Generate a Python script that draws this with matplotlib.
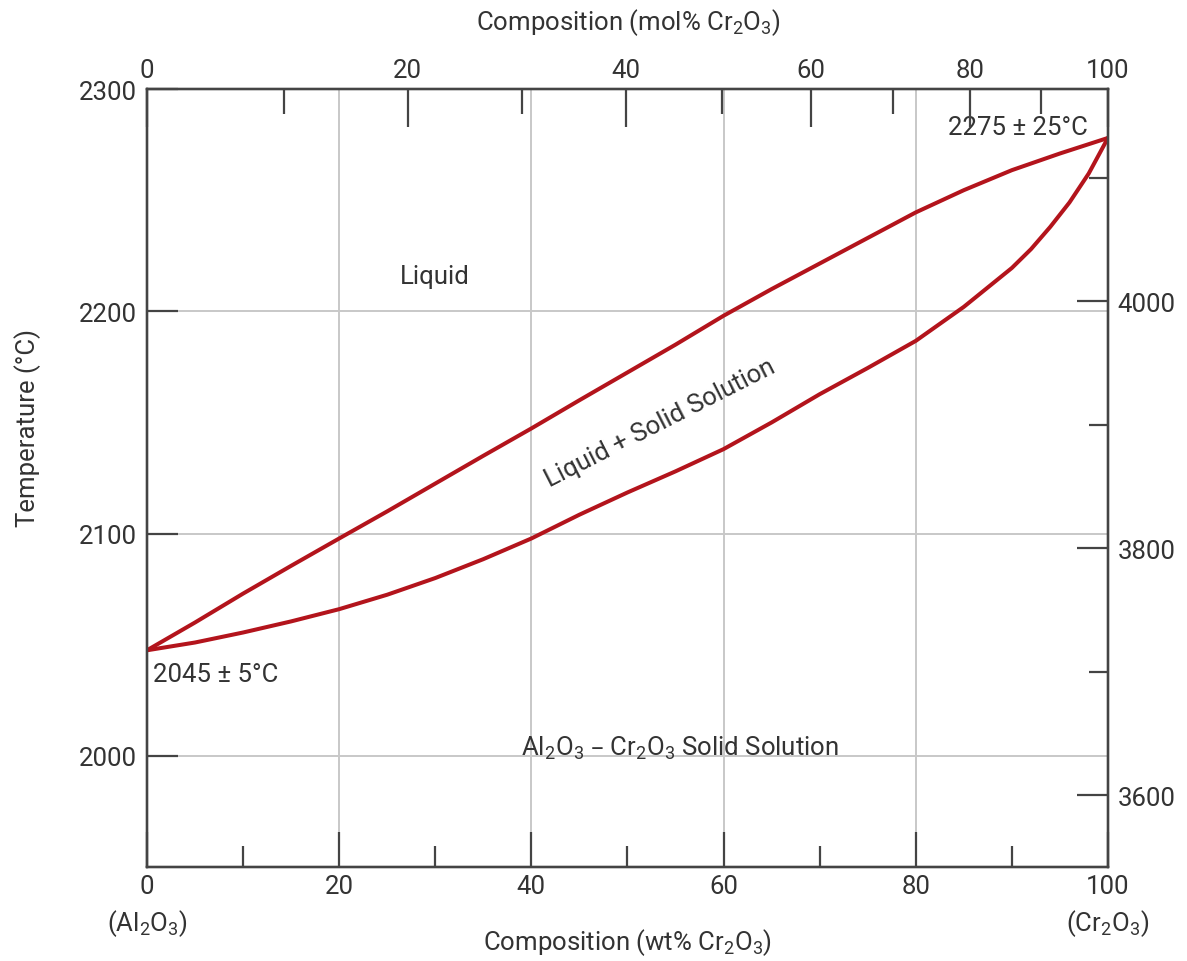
import matplotlib
matplotlib.use("Agg")
import matplotlib.pyplot as plt
import numpy as np

plt.rcParams['font.family'] = ['Roboto', 'DejaVu Sans']
plt.rcParams['mathtext.default'] = 'regular'

# phase boundaries (wt% Cr2O3, degC)
liq_wt = [0, 5, 10, 15, 20, 25, 30, 35, 40, 45, 50, 55, 60, 65, 70, 75, 80, 85, 90, 95, 100]
liq_T = [2047.5, 2060, 2073, 2085.5, 2097.8, 2110, 2122.5, 2135, 2147.3, 2160, 2172.5, 2185, 2198,
         2210, 2221.5, 2233, 2244.5, 2254.5, 2263.5, 2271, 2278]
sol_wt = [0, 5, 10, 15, 20, 25, 30, 35, 40, 45, 50, 55, 60, 65, 70, 75, 80, 85, 90, 92, 94, 96, 98, 100]
sol_T = [2047.5, 2051, 2055.5, 2060.5, 2066, 2072.5, 2080, 2088.5, 2097.8, 2108.5, 2118.5, 2128, 2138,
         2150, 2162.7, 2174.5, 2186.7, 2202, 2219.5, 2228, 2238, 2249, 2262, 2278]

wt_major = [0, 20, 40, 60, 80, 100]
wt_minor = [10, 30, 50, 70, 90]
mol_major = [0, 20, 40, 60, 80, 100]
mol_minor = [10, 30, 50, 70, 90]
T_major = [2000, 2100, 2200, 2300]
F_major = [3600, 3800, 4000]
F_minor = [3700, 3900, 4100]

M_AL2O3 = 101.96
M_CR2O3 = 151.99

def mol2wt(m):
    m = np.asarray(m, dtype=float)
    return 100 * m * M_CR2O3 / (m * M_CR2O3 + (100 - m) * M_AL2O3)

def c2f(c):
    return c * 9 / 5 + 32

red = '#b3141c'
txt = '#333333'
spine = '#444444'
grid = '#c8c8c8'
fs = 18.5

fig = plt.figure(figsize=(11.87, 9.62), dpi=100)
ax = fig.add_axes([0.1238, 0.0977, 0.8096, 0.8087])
ax.set_xlim(0, 100)
ax.set_ylim(1950, 2300)

for v in [20, 40, 60, 80]:
    ax.axvline(v, color=grid, lw=1.4, zorder=0)
for v in [2000, 2100, 2200]:
    ax.axhline(v, color=grid, lw=1.4, zorder=0)

ax.plot(liq_wt, liq_T, color=red, lw=2.9, solid_joinstyle='round', solid_capstyle='round', zorder=3)
ax.plot(sol_wt, sol_T, color=red, lw=2.9, solid_joinstyle='round', solid_capstyle='round', zorder=3)

for s in ax.spines.values():
    s.set_color(spine)
    s.set_linewidth(1.6)

ax.set_xticks(wt_major)
ax.set_xticks(wt_minor, minor=True)
ax.set_xticklabels([str(v) for v in wt_major])
ax.set_yticks(T_major)
ax.set_yticklabels([str(v) for v in T_major])
ax.tick_params(axis='x', which='major', direction='in', length=25, width=1.6, color=spine,
               labelsize=fs, labelcolor=txt, pad=5)
ax.tick_params(axis='x', which='minor', direction='in', length=15, width=1.6, color=spine)
ax.tick_params(axis='y', which='major', direction='in', length=22, width=1.6, color=spine,
               labelsize=fs, labelcolor=txt, pad=7)

tr = ax.get_xaxis_transform()
ax.text(0, -0.071, '(Al$_2$O$_3$)', transform=tr, ha='center', va='center', fontsize=fs, color=txt)
ax.text(100, -0.071, '(Cr$_2$O$_3$)', transform=tr, ha='center', va='center', fontsize=fs, color=txt)

# top axis: mol%
axt = ax.twiny()
axt.set_xlim(0, 100)
axt.set_xticks(mol2wt(mol_major))
axt.set_xticks(mol2wt(mol_minor), minor=True)
axt.set_xticklabels([str(v) for v in mol_major])
axt.tick_params(axis='x', which='major', direction='in', length=27, width=1.6, color=spine,
                labelsize=fs, labelcolor=txt, pad=5)
axt.tick_params(axis='x', which='minor', direction='in', length=18, width=1.6, color=spine)

# right axis: degF
axr = ax.twinx()
axr.set_ylim(c2f(1950), c2f(2300))
axr.set_yticks(F_major)
axr.set_yticks(F_minor, minor=True)
axr.set_yticklabels([str(v) for v in F_major])
axr.tick_params(axis='y', which='major', direction='in', length=22, width=1.6, color=spine,
                labelsize=fs, labelcolor=txt, pad=7)
axr.tick_params(axis='y', which='minor', direction='in', length=14, width=1.6, color=spine)
for a in (axt, axr):
    for s in a.spines.values():
        s.set_color(spine)
        s.set_linewidth(1.6)

ax.text(30, 2215.8, 'Liquid', ha='center', va='center', fontsize=fs, color=txt)
ax.text(53.4, 2150, 'Liquid + Solid Solution', ha='center', va='center', rotation=27,
        rotation_mode='anchor', fontsize=fs, color=txt)
ax.text(55.5, 2004, 'Al$_2$O$_3$ – Cr$_2$O$_3$ Solid Solution', ha='center', va='center',
        fontsize=fs, color=txt)
ax.text(0.6, 2037, '2045 ± 5°C', ha='left', va='center', fontsize=fs, color=txt)
ax.text(97.9, 2283, '2275 ± 25°C', ha='right', va='center', fontsize=fs, color=txt)

fig.text(0.529, 0.977, 'Composition (mol% Cr$_2$O$_3$)', ha='center', va='center', fontsize=fs, color=txt)
fig.text(0.529, 0.020, 'Composition (wt% Cr$_2$O$_3$)', ha='center', va='center', fontsize=fs, color=txt)
fig.text(0.0236, 0.555, 'Temperature (°C)', ha='center', va='center', rotation=90, fontsize=fs, color=txt)

fig.savefig('out.png', dpi=100)
